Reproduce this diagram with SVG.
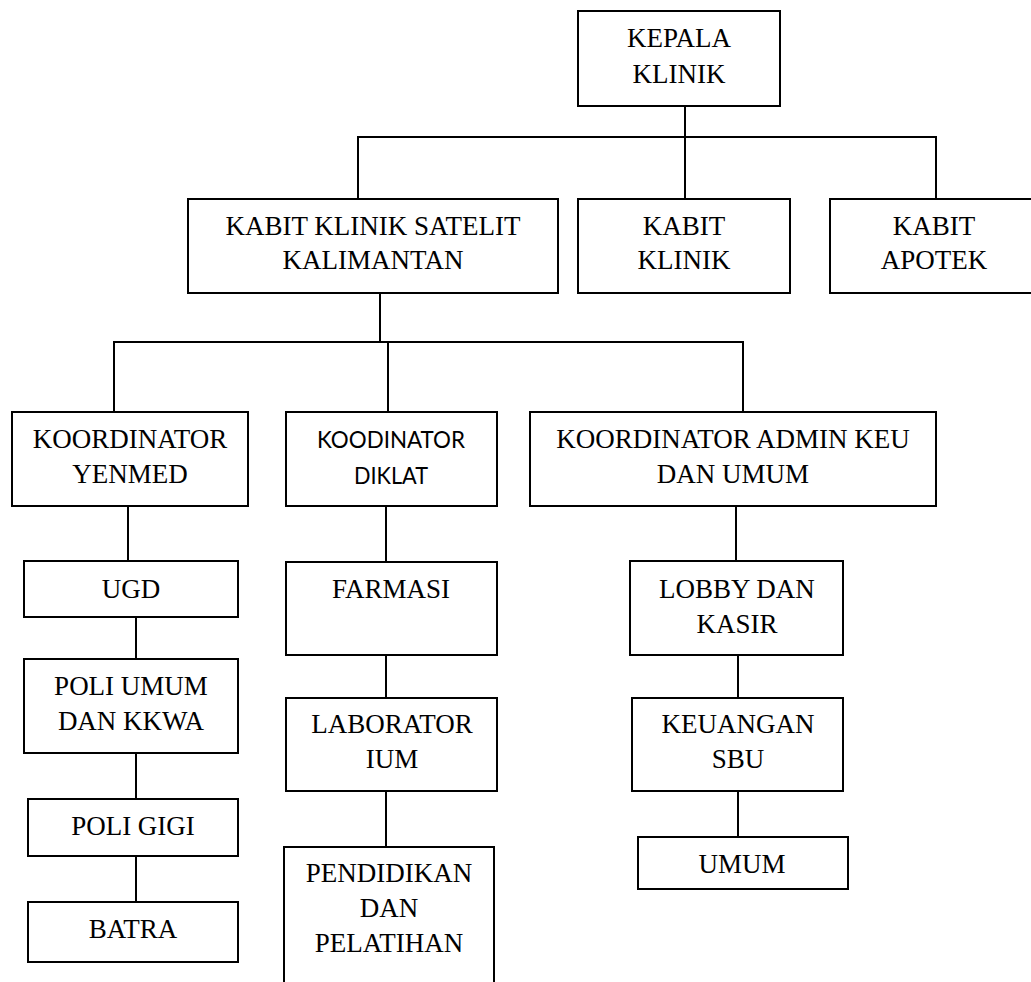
<svg xmlns="http://www.w3.org/2000/svg" width="1031" height="982" viewBox="0 0 1031 982">
<style>
rect.box{fill:#fff;stroke:#000;stroke-width:2}
.conn line{stroke:#000;stroke-width:2}
text{font-family:"Liberation Serif","Times New Roman",serif;font-size:27px;fill:#000;text-anchor:middle}
text.sans{font-family:Lato,"Open Sans","Liberation Sans",sans-serif;font-size:24px}
</style>
<rect width="1031" height="982" fill="#fff"/>
<g class="conn" id="connectors">
<line x1="685" y1="106" x2="685" y2="199"/>
<line x1="357" y1="137" x2="937" y2="137"/>
<line x1="358" y1="136" x2="358" y2="199"/>
<line x1="936" y1="136" x2="936" y2="199"/>
<line x1="380" y1="293" x2="380" y2="342"/>
<line x1="113" y1="342" x2="744" y2="342"/>
<line x1="114" y1="341" x2="114" y2="412"/>
<line x1="388" y1="342" x2="388" y2="412"/>
<line x1="743" y1="341" x2="743" y2="412"/>
<line x1="128" y1="506" x2="128" y2="561"/>
<line x1="136" y1="617" x2="136" y2="659"/>
<line x1="136" y1="753" x2="136" y2="799"/>
<line x1="136" y1="856" x2="136" y2="909"/>
<line x1="386" y1="506" x2="386" y2="562"/>
<line x1="386" y1="655" x2="386" y2="698"/>
<line x1="386" y1="791" x2="386" y2="847"/>
<line x1="736" y1="506" x2="736" y2="561"/>
<line x1="738" y1="655" x2="738" y2="698"/>
<line x1="738" y1="791" x2="738" y2="846"/>
</g>
<g id="kepala"><rect class="box" x="578" y="11" width="202" height="95"/><text x="679" y="47">KEPALA</text><text x="679" y="83">KLINIK</text></g>
<g id="kabit-satelit"><rect class="box" x="188" y="199" width="370" height="94"/><text x="373" y="235">KABIT KLINIK SATELIT</text><text x="373" y="269">KALIMANTAN</text></g>
<g id="kabit-klinik"><rect class="box" x="578" y="199" width="212" height="94"/><text x="684" y="235">KABIT</text><text x="684" y="269">KLINIK</text></g>
<g id="kabit-apotek"><rect class="box" x="830" y="199" width="206" height="94"/><text x="934" y="235">KABIT</text><text x="934" y="269">APOTEK</text></g>
<g id="koord-yenmed"><rect class="box" x="12" y="412" width="236" height="94"/><text x="130" y="448">KOORDINATOR</text><text x="130" y="483">YENMED</text></g>
<g id="koord-diklat"><rect class="box" x="286" y="412" width="211" height="94"/><text class="sans" x="391" y="448" textLength="148" lengthAdjust="spacingAndGlyphs">KOODINATOR</text><text class="sans" x="391" y="484" textLength="74" lengthAdjust="spacingAndGlyphs">DIKLAT</text></g>
<g id="koord-admin"><rect class="box" x="530" y="412" width="406" height="94"/><text x="733" y="448">KOORDINATOR ADMIN KEU</text><text x="733" y="483">DAN UMUM</text></g>
<g id="ugd"><rect class="box" x="24" y="561" width="214" height="56"/><text x="131" y="598">UGD</text></g>
<g id="poli-umum"><rect class="box" x="24" y="659" width="214" height="94"/><text x="131" y="695">POLI UMUM</text><text x="131" y="730">DAN KKWA</text></g>
<g id="poli-gigi"><rect class="box" x="28" y="799" width="210" height="57"/><text x="133" y="835">POLI GIGI</text></g>
<g id="batra"><rect class="box" x="28" y="902" width="210" height="60"/><text x="133" y="938">BATRA</text></g>
<g id="farmasi"><rect class="box" x="286" y="562" width="211" height="93"/><text x="391" y="598">FARMASI</text></g>
<g id="laboratorium"><rect class="box" x="286" y="698" width="211" height="93"/><text x="392" y="733">LABORATOR</text><text x="392" y="768">IUM</text></g>
<g id="pendidikan"><rect class="box" x="284" y="847" width="210" height="150"/><text x="389" y="882">PENDIDIKAN</text><text x="389" y="917">DAN</text><text x="389" y="952">PELATIHAN</text></g>
<g id="lobby"><rect class="box" x="630" y="561" width="213" height="94"/><text x="737" y="598">LOBBY DAN</text><text x="737" y="633">KASIR</text></g>
<g id="keuangan"><rect class="box" x="632" y="698" width="211" height="93"/><text x="738" y="733">KEUANGAN</text><text x="738" y="768">SBU</text></g>
<g id="umum"><rect class="box" x="638" y="837" width="210" height="52"/><text x="742" y="873">UMUM</text></g>
</svg>
